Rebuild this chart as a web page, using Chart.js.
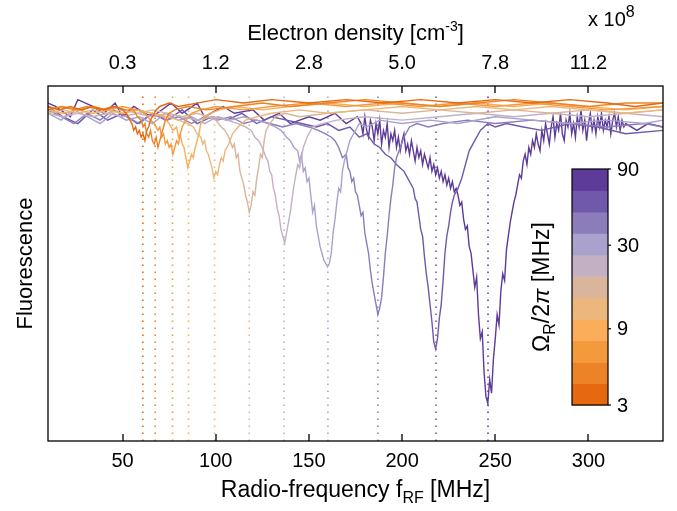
<!DOCTYPE html>
<html>
<head>
<meta charset="utf-8">
<script src="https://cdn.jsdelivr.net/npm/chart.js@4.4.0/dist/chart.umd.min.js"></script>
<style>
  html, body { margin: 0; padding: 0; background: #fff; }
</style>
</head>
<body>
<canvas id="chart" width="677" height="511"></canvas>
<script>
// bottom axis ticks (MHz) and the matching electron density labels (x 10^8 cm^-3)
const xTicks = [50, 100, 150, 200, 250, 300];
const densityLabels = ['0.3', '1.2', '2.8', '5.0', '7.8', '11.2'];

// resonance positions (dotted lines), MHz
const resonances = [60.9, 67.5, 76.8, 85.4, 99.4, 118.0, 136.7, 160.2, 187.0, 218.2, 246.1];

// colour bar: Rabi frequency Omega_R/2pi [MHz]
const cbTicks = [3, 9, 30, 90];
const curveColors = ['#e6690f', '#ec8327', '#f39a3d', '#fbad5a', '#ecb77c', '#d9b59b',
                     '#c3b1c3', '#aaa2cd', '#8c7dba', '#7059aa', '#5d3b98'];

// spectra: frequency (MHz) and normalised fluorescence
const f1 = [10,16,22,28,34,40,46,50,52,54,55,56,57,58,59,60,61,62,63,64,65,66,68,70,75,80,90,100,115,130,150,170,190,210,230,250,270,290,310,325,340];
const v1 = [0.98,0.97,0.98,0.97,0.98,0.97,0.98,0.97,0.96,0.94,0.93,0.91,0.92,0.90,0.91,0.89,0.90,0.88,0.91,0.92,0.94,0.95,0.97,0.98,0.99,0.98,0.99,1.00,0.99,1.00,0.99,1.00,0.99,1.00,0.99,1.00,0.99,1.00,0.99,0.98,0.99];

const f2 = [10,17,24,31,38,45,52,56,58,60,61,62,63,64,65,66,67,68,69,70,71,72,73,75,78,85,95,110,125,140,160,180,200,220,240,260,280,300,320,340];
const v2 = [0.97,0.98,0.97,0.98,0.97,0.98,0.97,0.97,0.95,0.94,0.92,0.93,0.90,0.89,0.91,0.88,0.87,0.89,0.86,0.88,0.90,0.92,0.94,0.96,0.97,0.98,0.97,0.98,0.99,0.98,0.99,1.00,0.99,0.98,0.99,1.00,0.99,0.98,0.99,0.99];

const f3 = [10,18,26,34,42,50,58,62,65,67,69,70,71,72,73,74,75,76,77,78,79,80,81,82,84,87,92,100,115,130,150,170,190,210,230,250,270,290,310,340];
const v3 = [0.97,0.98,0.97,0.98,0.97,0.98,0.97,0.96,0.94,0.93,0.91,0.92,0.89,0.90,0.87,0.88,0.86,0.87,0.84,0.86,0.88,0.87,0.90,0.92,0.94,0.96,0.97,0.98,0.97,0.98,0.99,0.98,0.99,0.98,0.99,0.98,0.99,0.98,0.97,0.98];

const f4 = [10,18,26,34,42,50,58,66,72,75,77,79,80,81,82,83,84,85,86,87,88,89,90,91,92,94,97,102,110,125,140,160,180,200,220,240,260,280,300,320,340];
const v4 = [0.97,0.96,0.97,0.96,0.97,0.96,0.97,0.96,0.95,0.93,0.91,0.92,0.89,0.90,0.87,0.86,0.83,0.80,0.82,0.84,0.83,0.86,0.88,0.90,0.93,0.95,0.96,0.97,0.98,0.97,0.98,0.99,0.98,0.99,0.98,0.99,0.98,0.99,0.98,0.97,0.98];

const f5 = [10,18,26,34,42,50,58,66,74,80,85,88,90,92,93,94,95,96,97,98,99,100,101,102,103,104,105,107,109,112,116,122,130,145,160,180,200,220,240,260,280,300,320,340];
const v5 = [0.97,0.96,0.97,0.96,0.97,0.96,0.97,0.96,0.95,0.94,0.93,0.92,0.90,0.89,0.87,0.88,0.85,0.84,0.82,0.80,0.77,0.79,0.78,0.81,0.83,0.82,0.85,0.87,0.90,0.92,0.94,0.95,0.96,0.97,0.96,0.97,0.98,0.97,0.98,0.97,0.98,0.97,0.96,0.97];

const f6 = [10,18,26,34,42,50,58,66,74,82,90,96,100,103,105,107,109,110,111,112,113,114,115,116,117,118,119,120,121,122,123,124,125,126,127,129,132,137,145,160,180,200,220,240,260,280,300,320,340];
const v6 = [0.96,0.97,0.96,0.97,0.96,0.97,0.96,0.97,0.96,0.95,0.96,0.95,0.94,0.92,0.91,0.89,0.86,0.87,0.83,0.84,0.79,0.77,0.75,0.72,0.70,0.67,0.69,0.73,0.72,0.77,0.80,0.84,0.83,0.88,0.91,0.93,0.95,0.96,0.95,0.96,0.97,0.96,0.97,0.96,0.97,0.96,0.97,0.96,0.97];

const f7 = [10,18,26,34,42,50,58,66,74,82,90,98,106,112,116,119,121,123,125,127,128,129,130,131,132,133,134,135,136,137,138,139,140,141,142,143,144,145,147,149,152,157,165,180,200,220,240,260,280,300,320,340];
const v7 = [0.96,0.95,0.96,0.95,0.96,0.95,0.96,0.95,0.96,0.95,0.94,0.95,0.94,0.93,0.92,0.91,0.89,0.88,0.86,0.83,0.82,0.79,0.78,0.74,0.72,0.68,0.66,0.62,0.60,0.58,0.61,0.64,0.67,0.71,0.75,0.78,0.81,0.80,0.86,0.89,0.92,0.93,0.94,0.95,0.94,0.95,0.96,0.95,0.96,0.95,0.96,0.95];

const f8 = [10,17,24,31,38,45,52,59,66,73,80,87,94,101,108,115,122,128,132,135,138,140,142,144,145,146,147,148,149,150,151,152,153,154,155,156,157,158,159,160,161,162,163,164,165,166,167,168,169,170,172,174,177,181,188,200,215,230,250,270,290,310,330,340];
const v8 = [0.96,0.94,0.97,0.95,0.93,0.96,0.94,0.95,0.93,0.96,0.94,0.95,0.93,0.95,0.94,0.95,0.94,0.93,0.92,0.91,0.89,0.88,0.86,0.85,0.82,0.84,0.79,0.80,0.76,0.77,0.72,0.67,0.69,0.63,0.60,0.57,0.55,0.53,0.52,0.51,0.52,0.55,0.61,0.65,0.70,0.74,0.73,0.79,0.82,0.84,0.88,0.90,0.93,0.92,0.94,0.93,0.94,0.93,0.95,0.94,0.93,0.94,0.93,0.94];

const f9 = [10,17,24,31,38,45,52,59,66,73,80,87,94,101,108,115,122,129,136,143,150,155,159,162,164,166,168,170,171,172,173,174,175,176,177,178,179,180,181,182,183,184,185,186,187,188,189,190,191,192,193,194,195,196,197,199,201,204,208,214,222,235,250,270,290,310,330,340];
const v9 = [0.97,0.95,0.93,0.96,0.94,0.97,0.95,0.93,0.96,0.94,0.95,0.93,0.95,0.94,0.95,0.93,0.94,0.93,0.92,0.93,0.92,0.91,0.90,0.89,0.88,0.86,0.83,0.84,0.80,0.79,0.76,0.77,0.73,0.72,0.69,0.66,0.67,0.61,0.58,0.55,0.50,0.46,0.43,0.40,0.37,0.39,0.42,0.48,0.55,0.60,0.66,0.71,0.75,0.80,0.83,0.86,0.89,0.92,0.93,0.92,0.93,0.94,0.93,0.94,0.93,0.92,0.93,0.92];

const f10 = [10,18,26,34,42,50,58,66,74,82,90,98,106,114,122,130,138,146,154,160,166,172,177,181,185,188,191,194,197,199,201,203,205,206,207,208,209,210,211,212,213,214,215,216,217,218,219,220,221,222,223,224,225,226,227,228,230,232,234,236,239,242,246,250,256,265,275,290,305,320,340];
const v10 = [0.98,0.95,0.93,0.97,0.94,0.96,0.93,0.96,0.94,0.97,0.93,0.95,0.94,0.96,0.93,0.95,0.94,0.93,0.92,0.93,0.91,0.92,0.89,0.90,0.87,0.86,0.84,0.83,0.81,0.80,0.79,0.77,0.75,0.74,0.71,0.70,0.66,0.62,0.60,0.54,0.49,0.45,0.40,0.35,0.29,0.27,0.30,0.36,0.40,0.47,0.55,0.60,0.63,0.67,0.70,0.72,0.74,0.77,0.81,0.85,0.88,0.91,0.93,0.92,0.93,0.92,0.91,0.93,0.92,0.90,0.91];

const f11 = [10,14,22,26,34,40,46,50,56,62,66,76,82,90,94,104,110,120,126,134,140,150,156,164,170,176,
             178,179,180,181,182,183,184,185,186,187,188,189,190,191,192,193,194,195,196,197,198,199,200,201,202,203,
             204,205,206,207,208,209,210,211,212,213,214,215,216,217,218,219,220,221,222,223,224,225,226,227,228,229,
             230,231,232,233,234,235,236,237,238,239,240,241,242,243,244,245,246,247,248,249,250,251,252,253,254,255,256,257,258,
             259,260,261,262,263,264,265,266,267,268,269,270,271,272,273,274,275,276,277,278,279,280,281,282,283,284,285,286,287,288,
             289,290,291,292,293,294,295,296,297,298,299,300,301,302,303,304,305,306,307,308,309,310,311,312,313,314,315,316,317,318,
             319,320,326,332,340];
const v11 = [0.99,0.98,0.95,1.00,0.98,0.96,0.99,0.95,0.98,0.96,0.95,0.99,0.96,0.99,0.95,0.98,0.96,0.97,0.94,0.96,0.93,0.95,0.94,0.96,0.93,0.95,
             0.93,0.90,0.95,0.91,0.89,0.94,0.92,0.88,0.93,0.90,0.94,0.87,0.91,0.89,0.93,0.86,0.90,0.88,0.91,0.86,0.89,0.85,0.88,0.90,0.85,0.87,
             0.84,0.88,0.85,0.82,0.86,0.83,0.85,0.81,0.84,0.82,0.80,0.83,0.79,0.81,0.78,0.80,0.77,0.79,0.76,0.78,0.75,0.77,0.74,0.76,0.73,0.74,
             0.72,0.69,0.70,0.65,0.62,0.63,0.57,0.55,0.50,0.45,0.48,0.37,0.30,0.32,0.20,0.13,0.11,0.18,0.14,0.24,0.30,0.37,0.34,0.44,0.49,0.47,0.56,0.60,0.64,
             0.67,0.70,0.72,0.75,0.78,0.77,0.82,0.84,0.81,0.86,0.84,0.88,0.86,0.90,0.87,0.85,0.91,0.88,0.93,0.90,0.87,0.92,0.95,0.89,0.93,0.91,0.96,0.90,0.88,0.94,
             0.92,0.96,0.90,0.93,0.89,0.95,0.92,0.97,0.91,0.94,0.88,0.93,0.96,0.91,0.94,0.90,0.95,0.92,0.96,0.91,0.94,0.92,0.95,0.90,0.94,0.96,0.92,0.95,0.91,0.94,
             0.92,0.93,0.91,0.93,0.92];

const spectra = [[f1, v1], [f2, v2], [f3, v3], [f4, v4], [f5, v5], [f6, v6],
                 [f7, v7], [f8, v8], [f9, v9], [f10, v10], [f11, v11]];

const FONT = '"Liberation Sans", Arial, Helvetica, sans-serif';
const Y_MIN = 0, Y_MAX = 1.04;

function toPoints(f, v) {
    return f.map(function(x, i) { return {x: x, y: v[i]}; });
}

var datasets = [];
// first dataset is drawn on top, so orange ones go first
spectra.forEach(function(s, i) {
    datasets.push({
        data: toPoints(s[0], s[1]),
        borderColor: curveColors[i],
        borderWidth: 1.4,
        pointRadius: 0,
        tension: 0
    });
});
resonances.forEach(function(r, i) {
    datasets.push({
        data: [{x: r, y: Y_MIN}, {x: r, y: 1.02}],
        borderColor: curveColors[i],
        borderWidth: 1.6,
        borderDash: [1.6, 5.4],
        pointRadius: 0
    });
});

// draw "text" made of pieces with their own size / vertical shift
function drawRich(ctx, parts, x, y, align) {
    var total = 0;
    parts.forEach(function(p) {
        ctx.font = (p.italic ? 'italic ' : '') + p.size + 'px ' + FONT;
        p.w = ctx.measureText(p.t).width;
        total += p.w;
    });
    var cx = align === 'center' ? x - total / 2 : x;
    ctx.textAlign = 'left';
    ctx.textBaseline = 'alphabetic';
    parts.forEach(function(p) {
        ctx.font = (p.italic ? 'italic ' : '') + p.size + 'px ' + FONT;
        ctx.fillText(p.t, cx, y + (p.dy || 0));
        cx += p.w;
    });
}

const decor = {
    id: 'decor',
    afterDraw: function(chart) {
        var ctx = chart.ctx, a = chart.chartArea, xs = chart.scales.x;
        ctx.save();
        ctx.strokeStyle = '#000';
        ctx.fillStyle = '#000';
        ctx.lineWidth = 1.3;
        ctx.strokeRect(a.left, a.top, a.right - a.left, a.bottom - a.top);
        xTicks.forEach(function(v) {
            var px = Math.round(xs.getPixelForValue(v));
            ctx.beginPath();
            ctx.moveTo(px, a.bottom); ctx.lineTo(px, a.bottom - 7);
            ctx.moveTo(px, a.top); ctx.lineTo(px, a.top + 7);
            ctx.stroke();
        });

        var mid = (a.left + a.right) / 2;
        drawRich(ctx, [{t: 'Radio-frequency f', size: 23}, {t: 'RF', size: 16, dy: 6}, {t: ' [MHz]', size: 23}], mid, 497, 'center');
        drawRich(ctx, [{t: 'Electron density [cm', size: 22}, {t: '-3', size: 14, dy: -9}, {t: ']', size: 22}], mid, 40, 'center');
        drawRich(ctx, [{t: 'x 10', size: 20}, {t: '8', size: 16, dy: -9}], 588, 26, 'left');

        ctx.save();
        ctx.translate(32, (a.top + a.bottom) / 2);
        ctx.rotate(-Math.PI / 2);
        drawRich(ctx, [{t: 'Fluorescence', size: 22}], 0, 0, 'center');
        ctx.restore();

        // colour bar
        var cb = {left: 572, right: 608, top: 169, bottom: 405};
        var n = curveColors.length, h = (cb.bottom - cb.top) / n;
        curveColors.forEach(function(c, i) {
            ctx.fillStyle = c;
            ctx.fillRect(cb.left, cb.bottom - (i + 1) * h, cb.right - cb.left, h + 0.5);
        });
        ctx.strokeStyle = '#000';
        ctx.lineWidth = 1.2;
        ctx.strokeRect(cb.left, cb.top, cb.right - cb.left, cb.bottom - cb.top);
        ctx.fillStyle = '#000';
        ctx.font = '20px ' + FONT;
        ctx.textAlign = 'left';
        ctx.textBaseline = 'middle';
        var lmin = Math.log(cbTicks[0]), lmax = Math.log(cbTicks[cbTicks.length - 1]);
        cbTicks.forEach(function(t) {
            var py = cb.bottom - (Math.log(t) - lmin) / (lmax - lmin) * (cb.bottom - cb.top);
            ctx.beginPath();
            ctx.moveTo(cb.right, py); ctx.lineTo(cb.right + 3, py);
            ctx.stroke();
            ctx.fillText(String(t), 617, py + 1);
        });

        ctx.save();
        ctx.translate(549, 287);
        ctx.rotate(-Math.PI / 2);
        drawRich(ctx, [{t: '\u03A9', size: 23}, {t: 'R', size: 16, dy: 6}, {t: '/2', size: 23},
                       {t: '\u03C0', size: 23, italic: true}, {t: ' [MHz]', size: 23}], 0, 0, 'center');
        ctx.restore();
        ctx.restore();
    }
};

new Chart(document.getElementById('chart'), {
    type: 'line',
    data: { datasets: datasets },
    options: {
        responsive: false,
        animation: false,
        events: [],
        layout: { padding: { left: 0, right: 14, top: 0, bottom: 0 } },
        plugins: { legend: { display: false }, tooltip: { enabled: false } },
        scales: {
            x: {
                type: 'linear', position: 'bottom', min: 10, max: 340,
                afterBuildTicks: function(s) { s.ticks = xTicks.map(function(v) { return {value: v}; }); },
                afterFit: function(s) { s.height = 70; },
                grid: { display: false, drawTicks: false },
                border: { display: false },
                ticks: { autoSkip: false, maxRotation: 0, padding: 8, color: '#000',
                         font: { family: FONT, size: 20 } }
            },
            x2: {
                type: 'linear', position: 'top', min: 10, max: 340,
                afterBuildTicks: function(s) { s.ticks = xTicks.map(function(v) { return {value: v}; }); },
                afterFit: function(s) { s.height = 86; },
                grid: { display: false, drawTicks: false },
                border: { display: false },
                ticks: { autoSkip: false, maxRotation: 0, padding: 11, color: '#000',
                         font: { family: FONT, size: 20 },
                         callback: function(v, i) { return densityLabels[i]; } }
            },
            y: {
                min: Y_MIN, max: Y_MAX,
                afterFit: function(s) { s.width = 48; },
                grid: { display: false, drawTicks: false },
                border: { display: false },
                ticks: { display: false }
            }
        }
    },
    plugins: [decor]
});
</script>
</body>
</html>
